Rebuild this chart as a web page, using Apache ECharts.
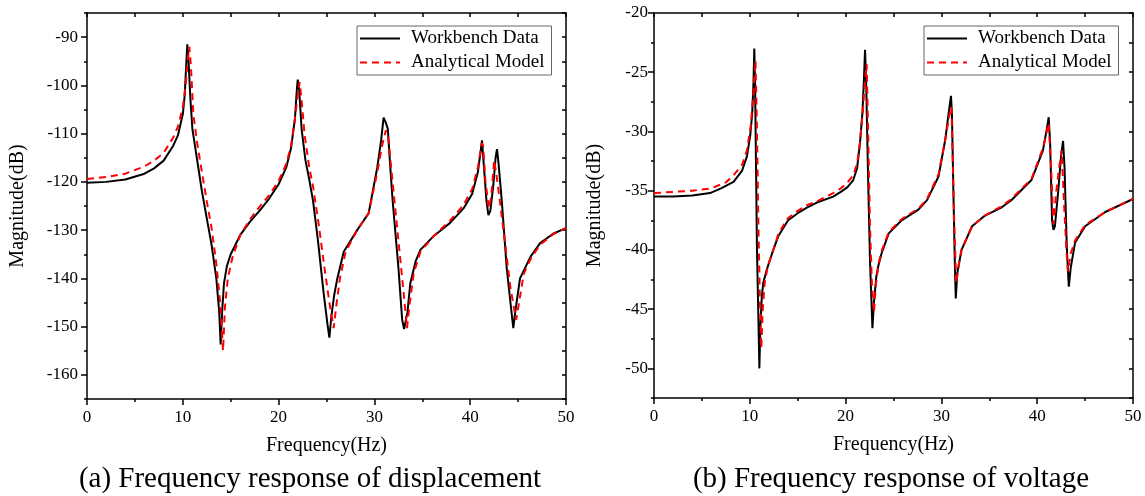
<!DOCTYPE html>
<html>
<head>
<meta charset="utf-8">
<script src="https://cdn.jsdelivr.net/npm/echarts@6/dist/echarts.min.js"></script>
<style>
html, body { margin: 0; padding: 0; background: #fff; }
#chart { width: 1145px; height: 496px; }
</style>
</head>
<body>
<div id="chart"></div>
<script>
// (a) displacement - Workbench
const dispFreqWb = [0, 2, 4, 6, 7, 8, 9, 9.5, 10, 10.2, 10.35, 10.47, 10.6, 10.8, 11.0, 11.5, 12.0, 12.5, 13.0, 13.5, 13.8, 13.95, 14.1, 14.3, 14.6, 15, 16, 17, 18, 19, 20, 20.8, 21.3, 21.7, 21.9, 22.0, 22.15, 22.4, 22.8, 23.2, 23.6, 24.1, 24.7, 25.1, 25.3, 25.5, 25.8, 26.1, 26.8, 28.2, 29.4, 30.3, 30.7, 30.96, 31.15, 31.4, 31.66, 31.9, 32.5, 32.9, 33.1, 33.25, 33.45, 33.75, 34.3, 34.8, 36.2, 37.9, 39.3, 40.2, 40.8, 41.1, 41.23, 41.4, 41.7, 41.9, 42.1, 42.4, 42.65, 42.8, 42.95, 43.3, 43.8, 44.2, 44.5, 44.7, 45.2, 46.3, 47.3, 48.7, 50]
const dispWb = [-120.2, -120.0, -119.5, -118.3, -117.2, -115.6, -112.5, -110.3, -106, -102, -96, -91.5, -95, -103, -109, -115.5, -122, -127.5, -133, -140, -147, -153.7, -147, -141, -137.5, -135, -131, -128.3, -126, -123.5, -120.5, -117, -113, -107, -101, -98.8, -101, -109, -115.5, -119.5, -124, -132, -143, -149.5, -152.3, -148, -143.5, -140.3, -134.5, -130, -126.5, -117, -111.4, -106.7, -107.5, -109, -117, -123.8, -137.6, -148.6, -150.5, -150.8, -147, -141, -136.5, -134.1, -131.2, -128.5, -125.5, -122.5, -118, -113.5, -111.4, -116, -124, -126.9, -126, -121, -115, -113.2, -116, -124, -137.6, -145, -150.3, -147, -140, -135.5, -132.7, -130.7, -129.6]

// (a) displacement - Analytical
const dispFreqAm = [0, 2, 4, 6, 7, 8, 9, 9.5, 10, 10.3, 10.5, 10.68, 10.85, 11.1, 11.5, 12.0, 12.5, 13.0, 13.5, 13.9, 14.2, 14.4, 14.7, 15.2, 16, 17, 18, 19, 20, 20.8, 21.3, 21.7, 22.0, 22.2, 22.4, 22.7, 23.2, 23.6, 24.2, 24.8, 25.3, 25.75, 26.0, 26.4, 27, 28.2, 29.4, 30.3, 30.8, 31.2, 31.45, 31.8, 32.1, 32.7, 33.1, 33.4, 33.7, 34.1, 34.8, 36.2, 37.9, 39.3, 40.2, 40.8, 41.2, 41.35, 41.6, 41.95, 42.2, 42.5, 42.7, 43.1, 43.6, 44.2, 44.8, 45.1, 45.6, 46.3, 47.3, 48.7, 50]
const dispAm = [-119.4, -119.0, -118.3, -116.8, -115.6, -114, -110.8, -108.5, -104.5, -100, -95, -92, -96, -106, -112, -118, -124, -129.5, -137, -145, -155, -146, -140, -135.5, -131, -127.8, -125.2, -122.8, -119.8, -116.3, -112.5, -107, -102, -99.3, -103, -110, -117, -121, -129, -138, -145, -150.3, -146, -140, -134.5, -130, -126.5, -118, -112.5, -109.3, -111, -118, -124, -136, -144, -150.3, -145, -139, -134.5, -131.2, -128, -124.8, -121.5, -117, -112, -112.5, -120, -125.5, -123, -115.5, -118, -124, -132, -142, -148.6, -145, -139, -136, -133, -130.8, -129.6]

// (b) voltage - Workbench
const voltFreqWb = [0, 2, 4, 5.85, 7, 8.3, 9.2, 9.7, 10.05, 10.25, 10.38, 10.47, 10.55, 10.65, 10.75, 10.9, 11.0, 11.1, 11.25, 11.4, 11.76, 12.45, 13, 14, 15, 16, 17, 18.7, 19.5, 20.2, 20.8, 21.2, 21.5, 21.75, 21.92, 22.03, 22.15, 22.35, 22.55, 22.8, 22.95, 23.2, 23.4, 23.75, 24.5, 25.85, 27.6, 28.5, 29.7, 30.4, 30.75, 31.0, 31.1, 31.25, 31.4, 31.5, 31.65, 32.1, 33.2, 34.55, 36.3, 37.3, 39.4, 40.6, 41.0, 41.2, 41.35, 41.55, 41.7, 41.85, 42.2, 42.5, 42.7, 42.85, 43.1, 43.3, 43.5, 43.95, 45, 47.1, 50]
const voltWb = [-35.5, -35.5, -35.4, -35.2, -34.8, -34.25, -33.3, -32.1, -30.3, -28.5, -26, -23.0, -26, -33, -40, -46, -50, -46.5, -44, -42.8, -41.7, -40, -38.8, -37.5, -36.9, -36.4, -36.0, -35.5, -35.1, -34.7, -34.1, -33.1, -31.0, -28.5, -25.5, -23.1, -26, -34, -41, -46.6, -44.5, -42.3, -41.4, -40.3, -38.6, -37.5, -36.6, -35.8, -33.8, -30.7, -28.5, -27.0, -28.5, -35, -41, -44.1, -42, -40, -38.0, -37.1, -36.4, -35.8, -34.1, -31.6, -29.8, -28.8, -31, -37.5, -38.3, -38.0, -35, -32, -30.8, -33, -40, -43.1, -41.5, -39.4, -38.0, -36.8, -35.7]

// (b) voltage - Analytical
const voltFreqAm = [0, 4, 6, 7.5, 8.3, 9.2, 9.7, 10.1, 10.4, 10.6, 10.75, 10.9, 11.05, 11.2, 11.35, 11.55, 11.9, 12.5, 13, 14, 15, 16, 17, 18.7, 19.5, 20.2, 20.8, 21.2, 21.5, 21.8, 22.0, 22.2, 22.35, 22.55, 22.75, 22.96, 23.15, 23.45, 23.8, 24.5, 25.85, 27.6, 28.5, 29.7, 30.4, 30.8, 31.05, 31.2, 31.35, 31.55, 31.8, 32.1, 33.2, 34.55, 36.3, 37.3, 39.4, 40.6, 41.2, 41.45, 41.7, 42.0, 42.3, 42.55, 42.8, 43.05, 43.2, 43.5, 43.95, 45, 47.1, 50]
const voltAm = [-35.2, -35.0, -34.8, -34.3, -33.7, -32.8, -31.6, -29.5, -26.5, -24.0, -30, -38, -44, -48.3, -45, -42.8, -41.3, -39.9, -38.6, -37.3, -36.7, -36.2, -35.9, -35.2, -34.8, -34.3, -33.7, -32.7, -30.9, -28.3, -26, -24.3, -30, -38, -43, -45.3, -43, -41.1, -40, -38.5, -37.4, -36.5, -35.7, -33.6, -30.7, -28.8, -27.9, -33, -38, -42.8, -41.3, -40, -38, -37.1, -36.3, -35.7, -34.0, -31.4, -29.3, -33, -37.8, -35, -33, -31.6, -36, -40, -41.8, -40.3, -39.2, -37.9, -36.8, -35.7]

// labelled tick positions
const dispMajorTicks = [-160, -150, -140, -130, -120, -110, -100, -90]
const voltMajorTicks = [-50, -45, -40, -35, -30, -25, -20]

const FONT = 'Liberation Serif'
const chartDom = echarts.init(document.getElementById('chart'))

function pairs(xs, ys) {
  return xs.map((x, i) => [x, ys[i]])
}

const axisLine = { onZero: false, lineStyle: { color: '#000', width: 1.5 } }
const tickLine = { color: '#000', width: 1.5 }
const labelStyle = { fontFamily: FONT, fontSize: 17, color: '#000' }
const nameStyle = { fontFamily: FONT, fontSize: 20, color: '#000' }

function bottomAxis(gi) {
  return {
    type: 'value', gridIndex: gi, position: 'bottom', min: 0, max: 50, interval: 10,
    name: 'Frequency(Hz)', nameLocation: 'middle', nameGap: 37, nameTextStyle: nameStyle,
    axisLine: axisLine,
    axisTick: { length: 6, lineStyle: tickLine },
    minorTick: { show: true, splitNumber: 2, length: 3, lineStyle: tickLine },
    axisLabel: Object.assign({ margin: 10 }, labelStyle),
    splitLine: { show: false },
  }
}
function topAxis(gi) {
  return {
    type: 'value', gridIndex: gi, position: 'top', min: 0, max: 50, interval: 5,
    axisLine: axisLine,
    axisTick: { inside: true, length: 4, lineStyle: tickLine },
    axisLabel: { show: false },
    splitLine: { show: false },
  }
}
function leftAxis(gi, min, max, step, labelStep, gap, margin) {
  return {
    type: 'value', gridIndex: gi, position: 'left', min: min, max: max, interval: step,
    name: 'Magnitude(dB)', nameLocation: 'middle', nameGap: gap, nameTextStyle: nameStyle,
    axisLine: axisLine,
    axisTick: { length: 3, lineStyle: tickLine },
    axisLabel: Object.assign({
      margin: margin,
      formatter: function (v) {
        return Math.abs(v % labelStep) < 1e-6 ? String(v) : ''
      },
    }, labelStyle),
    splitLine: { show: false },
  }
}
function leftMajor(gi, min, max, ticks) {
  return {
    type: 'value', gridIndex: gi, position: 'left', min: min, max: max,
    axisLine: { show: false },
    axisTick: { length: 6, customValues: ticks, lineStyle: tickLine },
    axisLabel: { show: false },
    splitLine: { show: false },
  }
}
function rightAxis(gi, min, max, step) {
  return {
    type: 'value', gridIndex: gi, position: 'right', min: min, max: max, interval: step,
    axisLine: axisLine,
    axisTick: { inside: true, length: 4, lineStyle: tickLine },
    axisLabel: { show: false },
    splitLine: { show: false },
  }
}
function legendAt(left) {
  return {
    orient: 'vertical', left: left, top: 26,
    data: ['Workbench Data', 'Analytical Model'],
    itemWidth: 40, itemHeight: 20, itemGap: 5,
    padding: [3, 7, 3, 2],
    borderColor: '#666', borderWidth: 1,
    itemStyle: { opacity: 0 },
    textStyle: { fontFamily: FONT, fontSize: 19, color: '#000', padding: [0, 0, 0, 6] },
  }
}
function wbSeries(xi, yi, data) {
  return {
    name: 'Workbench Data', type: 'line', xAxisIndex: xi, yAxisIndex: yi,
    symbol: 'none', showSymbol: false, smooth: false,
    lineStyle: { color: '#000', width: 2 },
    itemStyle: { color: '#000' },
    data: data,
  }
}
function amSeries(xi, yi, data) {
  return {
    name: 'Analytical Model', type: 'line', xAxisIndex: xi, yAxisIndex: yi,
    symbol: 'none', showSymbol: false, smooth: false,
    lineStyle: { color: '#ff0000', width: 2, type: [7, 5] },
    itemStyle: { color: '#ff0000' },
    data: data,
  }
}

const option = {
  backgroundColor: '#fff',
  animation: false,
  grid: [
    { left: 87, top: 13, width: 479, height: 386 },
    { left: 654, top: 13, width: 479, height: 385 },
  ],
  xAxis: [bottomAxis(0), topAxis(0), bottomAxis(1), topAxis(1)],
  yAxis: [
    leftAxis(0, -165, -85, 5, 10, 59, 9),
    leftMajor(0, -165, -85, dispMajorTicks),
    rightAxis(0, -165, -85, 5),
    leftAxis(1, -52.5, -20, 2.5, 5, 49, 6),
    leftMajor(1, -52.5, -20, voltMajorTicks),
    rightAxis(1, -52.5, -20, 2.5),
  ],
  legend: [legendAt(357), legendAt(924)],
  series: [
    wbSeries(0, 0, pairs(dispFreqWb, dispWb)),
    amSeries(0, 0, pairs(dispFreqAm, dispAm)),
    wbSeries(2, 3, pairs(voltFreqWb, voltWb)),
    amSeries(2, 3, pairs(voltFreqAm, voltAm)),
  ],
  graphic: [
    {
      type: 'text', x: 310, y: 479,
      style: { text: '(a) Frequency response of displacement', fontFamily: FONT, fontSize: 29, fill: '#000',
        align: 'center', verticalAlign: 'middle', textAlign: 'center', textVerticalAlign: 'middle' },
    },
    {
      type: 'text', x: 891, y: 479,
      style: { text: '(b) Frequency response of voltage', fontFamily: FONT, fontSize: 29, fill: '#000',
        align: 'center', verticalAlign: 'middle', textAlign: 'center', textVerticalAlign: 'middle' },
    },
  ],
}

chartDom.setOption(option)
</script>
</body>
</html>
